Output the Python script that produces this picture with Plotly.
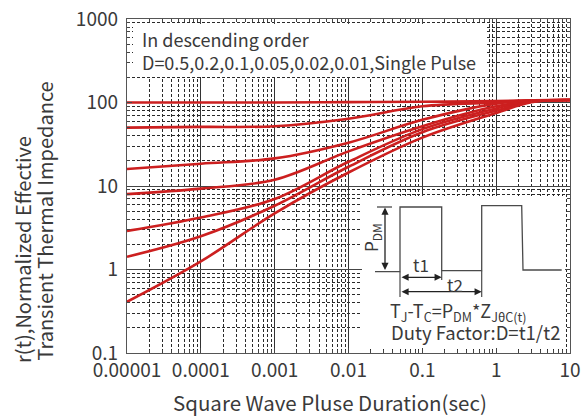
import plotly.graph_objects as go

# ---------------- data ----------------
durations = [1e-5, 1e-4, 1e-3, 1e-2, 1e-1, 1, 3, 10]
r_d050 = [100, 100, 100, 101, 102, 104, 106, 107]
r_d020 = [50, 51, 52, 64, 90, 100, 106, 107]
r_d010 = [16, 18.5, 21.4, 33, 62, 97, 105, 107]
r_d005 = [8, 9.3, 11.9, 26, 52, 90, 104, 107]
r_d002 = [2.9, 4.2, 7.0, 19.5, 48, 85, 103, 107]
r_d001 = [1.42, 2.5, 5.8, 17, 44, 80, 102, 107]
r_single = [0.41, 1.25, 4.7, 14.5, 38, 75, 101, 107]
series = [r_d050, r_d020, r_d010, r_d005, r_d002, r_d001, r_single]
series_names = ["D=0.5", "D=0.2", "D=0.1", "D=0.05", "D=0.02", "D=0.01", "Single Pulse"]

x_tickvals = [1e-5, 1e-4, 1e-3, 1e-2, 1e-1, 1, 10]
x_ticktext = ["0.00001", "0.0001", "0.001", "0.01", "0.1", "1", "10"]
y_tickvals = [0.1, 1, 10, 100, 1000]
y_ticktext = ["0.1", "1", "10", "100", "1000"]

# ---------------- figure ----------------
W, H = 584, 419
L, R, T, B = 127, 14, 19, 66
FONT = "Noto Sans CJK SC"
TXT = "#3a3a3a"
RED = "#cc1f1f"


def px(xp):
    return (xp - L) / (W - L - R)


def py(yp):
    return (H - B - yp) / (H - T - B)


fig = go.Figure()
for name, vals in zip(series_names, series):
    fig.add_trace(go.Scatter(x=durations, y=vals, mode="lines", name=name,
                             line=dict(color=RED, width=2.6, shape="spline", smoothing=1.0),
                             showlegend=False, hoverinfo="skip"))

minor_common = dict(dtick="D1", showgrid=True, griddash="3px,2px", gridcolor="#2a2a2a",
                    gridwidth=1, ticks="inside", ticklen=3, tickcolor="#444")

fig.update_xaxes(type="log", range=[-5, 1], tickvals=x_tickvals, ticktext=x_ticktext,
                 showgrid=True, gridcolor="#333", gridwidth=1.2,
                 ticks="inside", ticklen=5, tickcolor="#444",
                 showline=True, linecolor="#555", linewidth=1.3, mirror="ticks",
                 tickfont=dict(family=FONT, size=19, color=TXT),
                 minor=minor_common, zeroline=False)
fig.update_yaxes(type="log", range=[-1, 3], tickvals=y_tickvals, ticktext=y_ticktext,
                 showgrid=True, gridcolor="#444", gridwidth=1.2,
                 ticks="inside", ticklen=5, tickcolor="#444", ticklabelstandoff=4,
                 showline=True, linecolor="#555", linewidth=1.3, mirror="ticks",
                 tickfont=dict(family=FONT, size=19, color=TXT),
                 minor=minor_common, zeroline=False)

shapes = []
# white background behind the top-left note
shapes.append(dict(type="rect", xref="paper", yref="paper", layer="above",
                   x0=px(133), x1=px(485), y0=py(77), y1=py(24),
                   fillcolor="white", line=dict(width=0)))
# white inset box
shapes.append(dict(type="rect", xref="paper", yref="paper", layer="above",
                   x0=px(362), x1=px(565), y0=py(348), y1=py(196),
                   fillcolor="white", line=dict(width=0)))

WAVE = "#4a4a4a"
wave_pts = [(375, 271.7), (400, 271.7), (400, 207), (441.7, 207), (441.7, 270.7),
            (481.7, 270.7), (481.7, 205.7), (521.7, 205.7), (523, 270), (561.7, 270)]
path = "M " + " L ".join(f"{px(a):.5f},{py(b):.5f}" for a, b in wave_pts)
shapes.append(dict(type="path", xref="paper", yref="paper", path=path,
                   line=dict(color=WAVE, width=1.3)))
# P_DM top marker
shapes.append(dict(type="line", xref="paper", yref="paper",
                   x0=px(377), x1=px(392), y0=py(207), y1=py(207),
                   line=dict(color=WAVE, width=1.3)))
# vertical markers for t1/t2
for xa, ya, yb in [(400, 271.7, 297), (441.7, 270.7, 280), (481.7, 270.7, 297)]:
    shapes.append(dict(type="line", xref="paper", yref="paper",
                       x0=px(xa), x1=px(xa), y0=py(ya), y1=py(yb),
                       line=dict(color=WAVE, width=1.2)))


def note(x, y, text, size, xanchor="center", angle=0):
    return dict(xref="paper", yref="paper", x=px(x), y=py(y), xanchor=xanchor,
                yanchor="middle", showarrow=False, text=text, textangle=angle,
                font=dict(family=FONT, size=size, color=TXT))


annotations = []
annotations.append(note(140, 39, "In descending order", 18, "left"))
annotations.append(note(140, 62, "D=0.5,0.2,0.1,0.05,0.02,0.01,Single Pulse", 18, "left"))
# arrows
for hx, hy, ax, ay in [(385, 207.5, 0, 64), (441.7, 277.3, -41.7, 0), (481.7, 291.7, -81.7, 0)]:
    annotations.append(dict(xref="paper", yref="paper", x=px(hx), y=py(hy), ax=ax, ay=ay,
                            text="", showarrow=True, arrowside="end+start", arrowhead=2,
                            arrowsize=1.1, arrowwidth=1.3, arrowcolor="#222", standoff=0,
                            startstandoff=0))
annotations.append(note(371, 238, "P<sub>DM</sub>", 17, angle=-90))
annotations.append(note(421, 264, "t1", 17))
annotations.append(note(455, 284, "t2", 17))
annotations.append(note(388, 311, "T<sub>J</sub>-T<sub>C</sub>=P<sub>DM</sub>*Z<sub>JθC(t)</sub>",
                        18, "left"))
annotations.append(note(389, 332, "Duty Factor:D=t1/t2", 18.5, "left"))
# axis titles
annotations.append(note(329.5, 402, "Square Wave Pluse Duration(sec)", 20.5))
annotations.append(note(23, 250, "r(t),Normalized Effective", 20, angle=-90))
annotations.append(note(44, 221.5, "Transient Thermal Impedance", 20, angle=-90))

fig.update_layout(width=W, height=H, margin=dict(l=L, r=R, t=T, b=B, autoexpand=False),
                  paper_bgcolor="white", plot_bgcolor="white",
                  shapes=shapes, annotations=annotations, showlegend=False)

fig.write_html("out.html", config={"displayModeBar": False},
               post_script="document.body.style.margin='0';")
